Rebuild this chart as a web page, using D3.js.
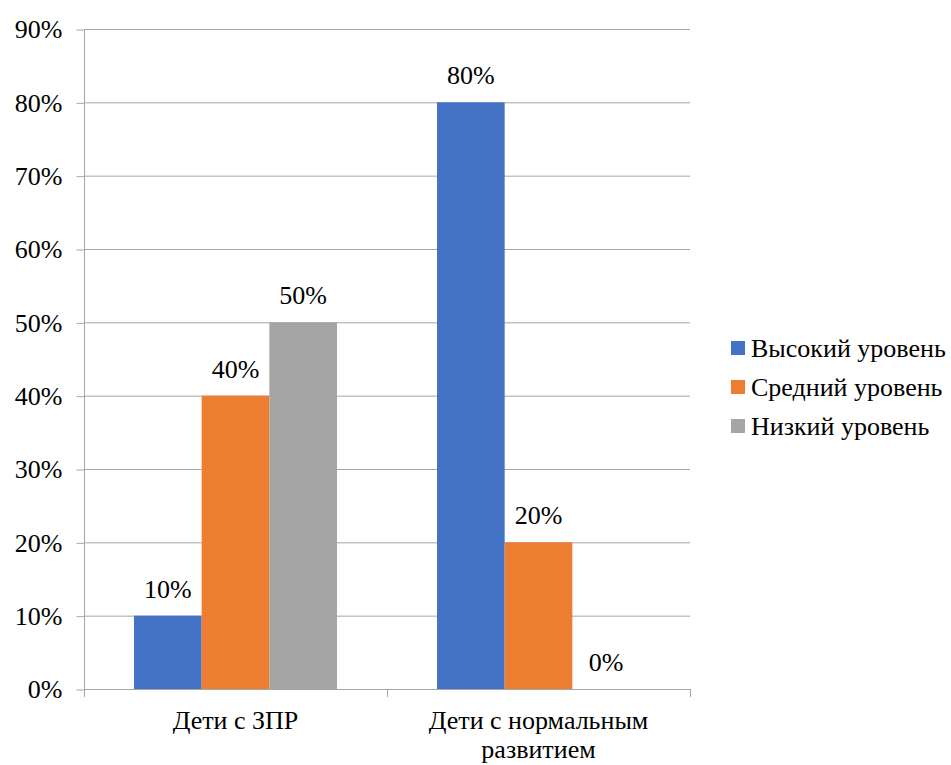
<!DOCTYPE html>
<html>
<head>
<meta charset="utf-8">
<script src="https://cdn.jsdelivr.net/npm/d3@7"></script>
</head>
<body style="margin:0">
<svg id="levels" width="951" height="765"></svg>
<script>
// Groups along the x axis and the three levels shown in each
const categories = [["Дети с ЗПР"], ["Дети с нормальным", "развитием"]];
const seriesNames = ["Высокий уровень", "Средний уровень", "Низкий уровень"];
const seriesColors = ["#4472C4", "#ED7D31", "#A5A5A5"];
// Share of children per level, in percent (one value per group)
const highLevel = [10, 80];
const midLevel = [40, 20];
const lowLevel = [50, 0];
const yTicks = [0, 10, 20, 30, 40, 50, 60, 70, 80, 90];

const seriesValues = [highLevel, midLevel, lowLevel];
const fontSize = 26;
const fontNames = ["Liberation Serif"];
const fontStack = fontNames.map(f => `"${f}"`).join(", ");

const svg = d3.select("#levels");
const plot = { left: 84, right: 690, top: 29, bottom: 689 };

const y = d3.scaleLinear().domain([0, 90]).range([plot.bottom, plot.top]);
const catKeys = categories.map(c => c.join(" "));
const x0 = d3.scaleBand().domain(catKeys).range([plot.left, plot.right]).padding(0);
const bw = x0.bandwidth();
const x1 = d3.scaleBand().domain(seriesNames).range([bw * 0.165, bw * 0.835]).padding(0);

function styleText(sel) {
  return sel.style("font-family", fontStack).style("font-size", `${fontSize}px`);
}

// horizontal gridlines
svg.append("g").selectAll("line").data(yTicks).join("line")
  .attr("x1", plot.left).attr("x2", plot.right)
  .attr("y1", d => y(d) + 0.5).attr("y2", d => y(d) + 0.5)
  .attr("stroke", "#a6a6a6").attr("stroke-width", 1);

// bars and their value labels
const groups = svg.append("g").selectAll("g").data(catKeys).join("g")
  .attr("transform", d => `translate(${x0(d)},0)`);
groups.each(function (cat, ci) {
  const g = d3.select(this);
  const rows = seriesNames.map((s, si) => ({ s, si, v: seriesValues[si][ci] }));
  g.selectAll("rect").data(rows).join("rect")
    .attr("x", d => x1(d.s))
    .attr("width", x1.bandwidth())
    .attr("y", d => y(d.v))
    .attr("height", d => y(0) - y(d.v))
    .attr("fill", d => seriesColors[d.si]);
  g.selectAll("text").data(rows).join("text")
    .attr("x", d => x1(d.s) + x1.bandwidth() / 2)
    .attr("y", d => y(d.v) - 18)
    .attr("text-anchor", "middle")
    .call(styleText)
    .text(d => d.v + "%");
});

// y axis
const yAxis = d3.axisLeft(y).tickValues(yTicks).tickFormat(d => d + "%").tickSize(8).tickPadding(14);
const ya = svg.append("g").attr("transform", `translate(${plot.left + 0.5},0.5)`).call(yAxis);
ya.attr("font-family", null).attr("font-size", null);
ya.select(".domain").attr("stroke", "#a6a6a6").attr("d", `M0,${plot.top}V${plot.bottom}`);
ya.selectAll(".tick line").attr("stroke", "#a6a6a6");
ya.selectAll(".tick text").call(styleText);

// x axis line with boundary ticks
const xa = svg.append("g");
xa.append("line").attr("x1", plot.left).attr("x2", plot.right)
  .attr("y1", plot.bottom + 0.5).attr("y2", plot.bottom + 0.5).attr("stroke", "#a6a6a6");
const bounds = catKeys.map(k => x0(k)).concat([plot.right]);
xa.selectAll("line.tk").data(bounds).join("line").attr("class", "tk")
  .attr("x1", d => Math.round(d) + 0.5).attr("x2", d => Math.round(d) + 0.5)
  .attr("y1", plot.bottom).attr("y2", plot.bottom + 8).attr("stroke", "#a6a6a6");

// category labels
categories.forEach((lines, i) => {
  const cx = x0(catKeys[i]) + bw / 2;
  lines.forEach((ln, j) => {
    svg.append("text")
      .attr("x", cx)
      .attr("y", 729 + j * 29)
      .attr("text-anchor", "middle")
      .call(styleText)
      .text(ln);
  });
});

// legend
const legend = svg.append("g").attr("transform", "translate(731,341)");
seriesNames.forEach((s, i) => {
  const row = legend.append("g").attr("transform", `translate(0,${i * 39})`);
  row.append("rect").attr("width", 14).attr("height", 14).attr("fill", seriesColors[i]);
  row.append("text").attr("x", 20).attr("y", 16).call(styleText).text(s);
});
</script>
</body>
</html>
